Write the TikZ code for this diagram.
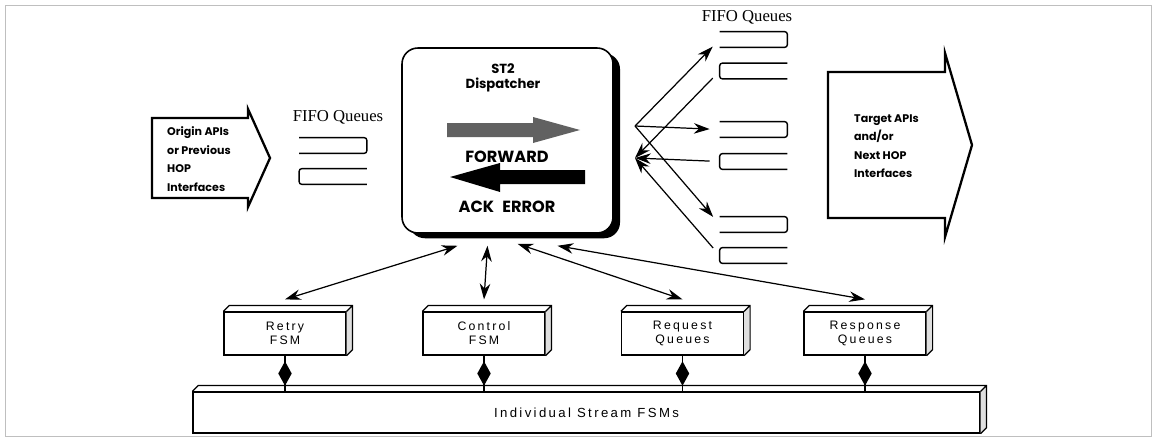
\documentclass[tikz,border=0pt]{standalone}
\usepackage{fontspec}
\setmainfont{Liberation Serif}
\setsansfont{Liberation Sans}
\newfontfamily\geofont{Poppins}
\newfontfamily\wideSans[LetterSpace=18]{Liberation Sans}
\usetikzlibrary{shapes.geometric, arrows.meta, positioning, calc, shadows}

\begin{document}
\begin{tikzpicture}[x=0.02cm, y=-0.02cm,
    frame/.style={draw=gray!50, line width=0.4pt},
    disp/.style={rectangle, rounded corners=9pt, draw, line width=0.9pt, fill=white, minimum width=4.22cm, minimum height=3.7cm,
        drop shadow={shadow xshift=4pt, shadow yshift=-3pt, fill=black, opacity=1}},
    dtext/.style={align=center, font=\geofont\bfseries\fontsize{7.5}{8.5}\selectfont},
    big/.style={font=\geofont\bfseries\fontsize{9.2}{10}\selectfont},
    port/.style={draw, line width=1.3pt, line join=miter},
    porttext/.style={anchor=west, align=left, font=\geofont\bfseries\fontsize{6.3}{10.5}\selectfont},
    fifo/.style={font=\fontsize{9.5}{11}\selectfont},
    queue/.style={minimum width=1.34cm, minimum height=0.3cm, inner sep=0},
    qline/.style={line width=0.8pt, rounded corners=1.5pt},
    fan/.style={-{Stealth[length=9pt, width=6pt]}, line width=0.7pt},
    link/.style={{Stealth[length=9pt, width=6pt]}-{Stealth[length=9pt, width=6pt]}, line width=0.7pt},
    fsm/.style={rectangle, draw, line width=0.7pt, fill=white, minimum width=2.44cm, minimum height=0.86cm, align=center,
        font=\wideSans\fontsize{7}{8}\selectfont},
    bar/.style={rectangle, draw, line width=0.7pt, fill=white, minimum width=15.74cm, minimum height=0.82cm,
        font=\wideSans\fontsize{7.5}{9}\selectfont},
    tie/.style={line width=0.8pt},
    diam/.style={diamond, fill=black, minimum width=0.28cm, minimum height=0.5cm, inner sep=0pt}]

    \useasboundingbox (0,0) rectangle (1158,439);
    \draw[frame] (5,5) rectangle (1151,436);

    % dispatcher with its two block arrows
    \node[disp] (disp) at (507.5,140.5) {};
    \node[dtext] (title) at (503,78) {ST2\\Dispatcher};
    \fill[black!62] (447,123) -- (533,123) -- (533,117) -- (580,130) -- (533,143) -- (533,137) -- (447,137) -- cycle;
    \node[big] (fwd) at (507,157) {FORWARD};
    \fill (585,170) -- (500,170) -- (500,163) -- (450,177) -- (500,192) -- (500,184) -- (585,184) -- cycle;
    \node[big] (ack) at (507,207) {ACK\enspace ERROR};

    % interfaces on both sides
    \draw[port] (152,118) -- (248,118) -- (248,109) -- (270,158) -- (248,207) -- (248,198) -- (152,198) -- cycle;
    \node[porttext] (origin) at (161,159) {Origin APIs\\or Previous\\HOP\\Interfaces};
    \draw[port] (828,72) -- (945,72) -- (945,53) -- (972,145) -- (945,237) -- (945,218) -- (828,218) -- cycle;
    \node[porttext] (target) at (848,146) {Target APIs\\and/or\\Next HOP\\Interfaces};

    % FIFO queues
    \node[fifo] (fifoL) at (338,117) {FIFO Queues};
    \node[fifo] (fifoR) at (747,17) {FIFO Queues};
    \foreach \n/\x/\y in {lq1/333/145.5, lq2/333/176.5, q1/753.5/39.5, q2/753.5/71,
                          q3/753.5/129.5, q4/753.5/161.5, q5/753.5/224.5, q6/753.5/255.5}
        \node[queue] (\n) at (\x,\y) {};
    \foreach \q in {lq1,q1,q3,q5}
        \draw[qline] (\q.north west) -- (\q.north east) -- (\q.south east) -- (\q.south west);
    \foreach \q in {lq2,q2,q4,q6}
        \draw[qline] (\q.north east) -- (\q.north west) -- (\q.south west) -- (\q.south east);

    \coordinate (fanout) at (635,126);
    \coordinate (fanin) at (635,158);
    \foreach \q in {q1,q3,q5}
        \draw[fan, shorten >=0.2cm] (fanout) -- (\q.west);
    \foreach \q in {q2,q4,q6}
        \draw[fan, shorten <=0.2cm] (\q.west) -- (fanin);

    % state machines and queues below
    \node[fsm] (retry) at (285,333.5) {Retry\\FSM};
    \node[fsm] (ctrl) at (484,333.5) {Control\\FSM};
    \node[fsm] (req) at (682.5,333.5) {Request\\Queues};
    \node[fsm] (resp) at (865,333.5) {Response\\Queues};
    \node[bar] (streams) at (586.5,412.5) {Individual Stream FSMs};

    \foreach \b in {retry,ctrl,req,resp,streams} {
        \fill[gray!25] (\b.north east) -- ++(6,-6) -- ($(\b.south east)+(6,-6)$) -- (\b.south east) -- cycle;
        \draw[line width=0.7pt] (\b.north west) -- ++(6,-6) -- ($(\b.north east)+(6,-6)$) -- ($(\b.south east)+(6,-6)$) -- (\b.south east)
            (\b.north east) -- ++(6,-6);
    }

    \coordinate (d1) at ($(disp.south)+(-50,12)$);
    \coordinate (d2) at ($(disp.south)+(-20,12)$);
    \coordinate (d3) at ($(disp.south)+(10,10)$);
    \coordinate (d4) at ($(disp.south)+(50,12)$);
    \foreach \d/\b in {d1/retry, d2/ctrl, d3/req, d4/resp}
        \draw[link] (\d) -- ($(\b.north)+(0,-12)$);

    \foreach \b in {retry,ctrl,req,resp}
        \draw[tie] (\b.south) -- node[diam] {} (\b.south |- streams.north);
\end{tikzpicture}
\end{document}
